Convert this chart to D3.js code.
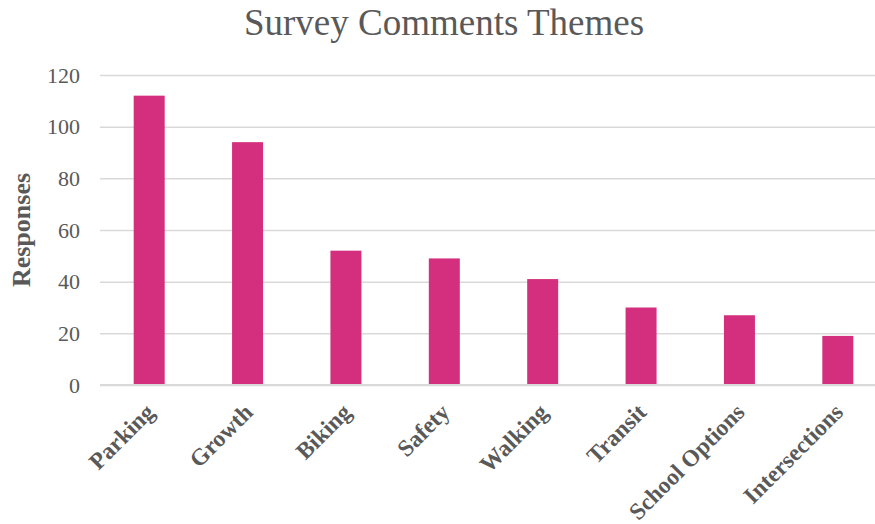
<!DOCTYPE html>
<html>
<head>
<meta charset="utf-8">
<script src="https://cdn.jsdelivr.net/npm/d3@7"></script>
<style>
    body { margin: 0; background: #fff; }
    svg { display: block; }
</style>
</head>
<body>
<svg id="chart" width="875" height="524"></svg>
<script>
// chart data
var categories = ["Parking", "Growth", "Biking", "Safety", "Walking", "Transit", "School Options", "Intersections"];
var responses = [112, 94, 52, 49, 41, 30, 27, 19];
var yTicks = [0, 20, 40, 60, 80, 100, 120];

var svg = d3.select("#chart"),
    textColor = "#595959",
    gridColor = "#d9d9d9",
    barColor = "#d42e7e";

var x = d3.scaleBand()
    .domain(categories)
    .range([100, 887])
    .paddingInner(0.685)
    .paddingOuter(0.3425);

var y = d3.scaleLinear()
    .domain([0, 120])
    .range([385, 75]);

// title
svg.append("text")
    .attr("x", 444)
    .attr("y", 35)
    .attr("text-anchor", "middle")
    .attr("font-family", "Liberation Serif, Times New Roman, serif")
    .attr("font-size", 37)
    .attr("fill", textColor)
    .text("Survey Comments Themes");

// gridlines + y labels
svg.append("g")
    .attr("transform", "translate(100,0)")
    .call(d3.axisLeft(y)
        .tickValues(yTicks)
        .tickSize(-787)
        .tickPadding(20))
    .call(g => g.select(".domain").remove())
    .call(g => g.selectAll(".tick line")
        .attr("stroke", gridColor)
        .attr("stroke-width", 1.5))
    .call(g => g.selectAll(".tick text")
        .attr("font-family", "Liberation Serif, Times New Roman, serif")
        .attr("font-size", 22)
        .attr("fill", textColor));

// y axis title
svg.append("text")
    .attr("transform", "translate(30,230) rotate(-90)")
    .attr("text-anchor", "middle")
    .attr("font-family", "Liberation Serif, Times New Roman, serif")
    .attr("font-weight", "bold")
    .attr("font-size", 26)
    .attr("fill", textColor)
    .text("Responses");

// bars
svg.append("g")
    .selectAll("rect")
    .data(categories)
    .join("rect")
    .attr("x", d => x(d))
    .attr("y", (d, i) => y(responses[i]))
    .attr("width", x.bandwidth())
    .attr("height", (d, i) => y(0) - y(responses[i]))
    .attr("fill", barColor);

// baseline
svg.append("line")
    .attr("x1", 100)
    .attr("x2", 887)
    .attr("y1", y(0))
    .attr("y2", y(0))
    .attr("stroke", gridColor)
    .attr("stroke-width", 2);

// category labels
svg.append("g")
    .selectAll("text")
    .data(categories)
    .join("text")
    .attr("transform", d => "translate(" + (x(d) + x.bandwidth() / 2 - 5) + ",402) rotate(-45)")
    .attr("text-anchor", "end")
    .attr("dy", "0.7em")
    .attr("font-family", "Liberation Serif, Times New Roman, serif")
    .attr("font-weight", "bold")
    .attr("font-size", 23.5)
    .attr("fill", textColor)
    .text(d => d);
</script>
</body>
</html>
